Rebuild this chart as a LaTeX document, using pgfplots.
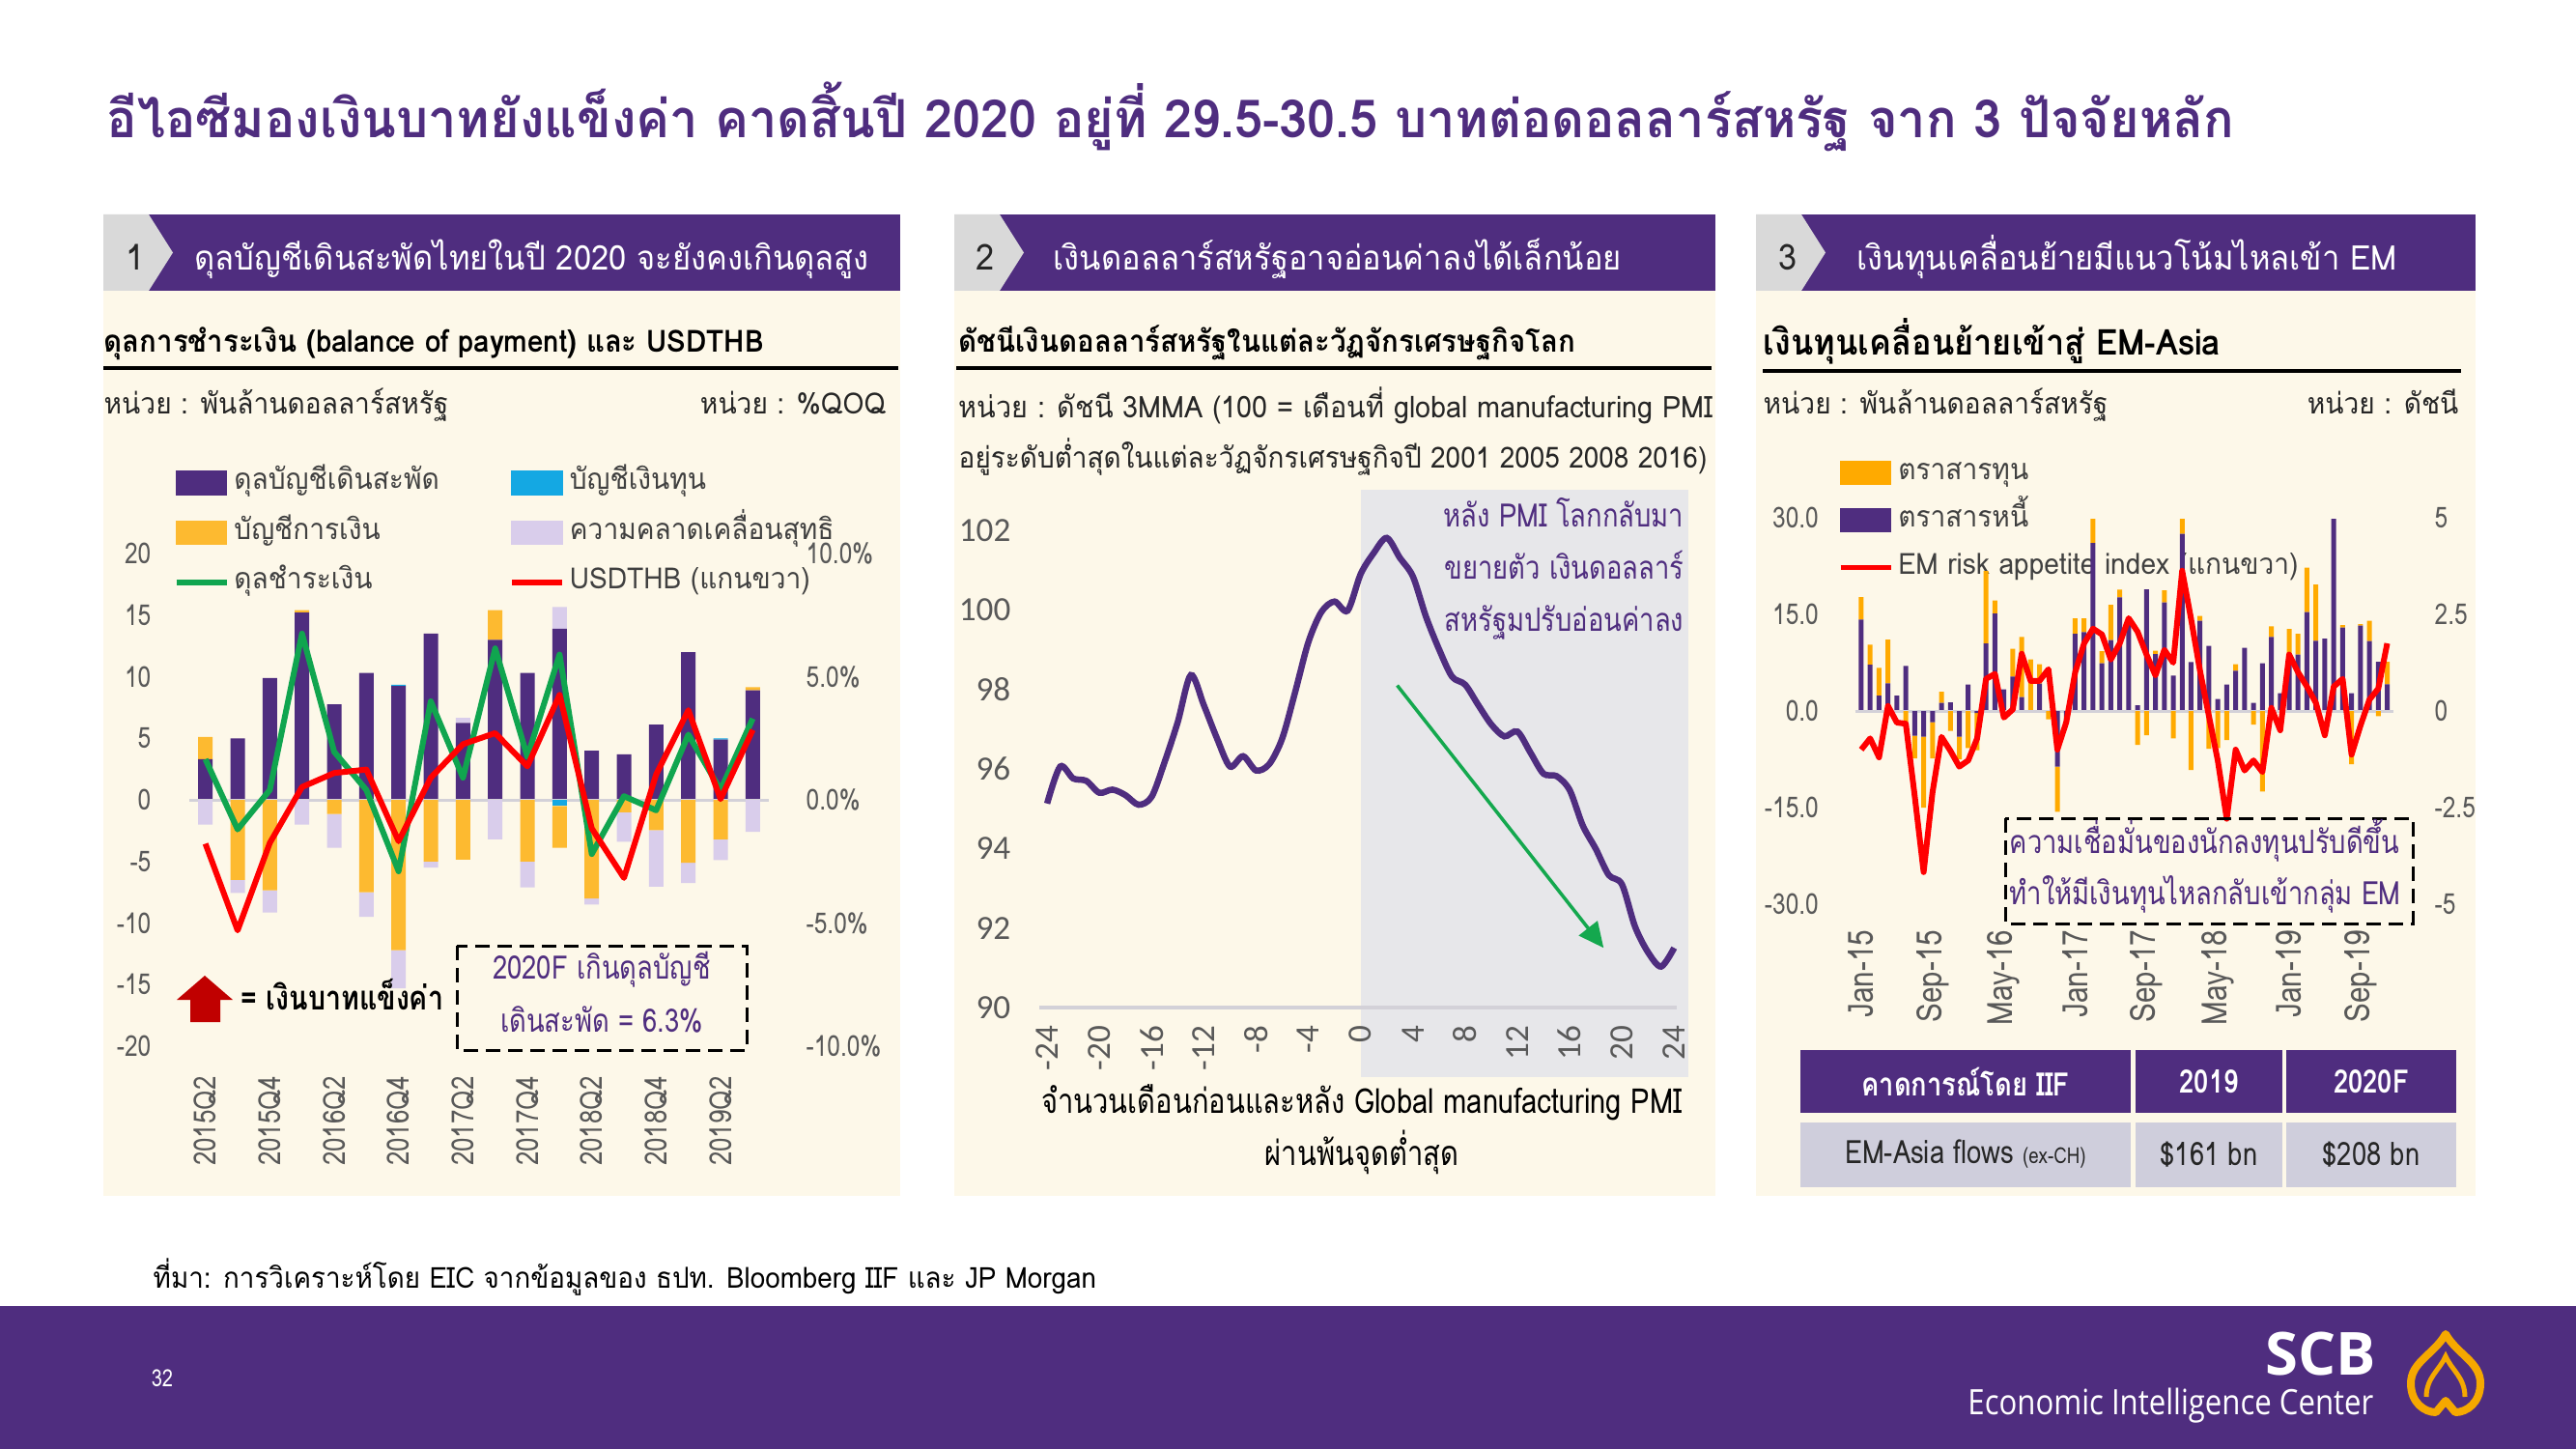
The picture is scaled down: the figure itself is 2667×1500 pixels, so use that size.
\documentclass[border=0pt]{standalone}
\usepackage{fontspec}
\usepackage{pgfplots}
\usepackage{pgfplotstable}
\pgfplotsset{compat=1.18}
\usetikzlibrary{arrows.meta}

\setmainfont[Script=Thai]{Loma}
\newfontfamily\thn[Script=Thai,FakeStretch=0.82]{Loma}
\newfontfamily\thw[Script=Thai,FakeStretch=0.93]{Loma}
\newfontfamily\tht[Script=Thai,FakeStretch=0.96]{Loma}
\newfontfamily\carl{Carlito}
\newfontfamily\osb{Open Sans}
\newfontfamily\osc[FakeStretch=0.86]{Open Sans}

\definecolor{eicpurple}{HTML}{4F2D7F}
\definecolor{cream}{HTML}{FDF8E9}
\definecolor{hdrgrey}{HTML}{D9D9D9}
\definecolor{faorange}{HTML}{FDBA30}
\definecolor{eqorange}{HTML}{FFAA00}
\definecolor{lav}{HTML}{D9CDEB}
\definecolor{kablue}{HTML}{14A8E3}
\definecolor{bopgreen}{HTML}{10A54F}
\definecolor{fxred}{HTML}{FF0000}
\definecolor{tickgrey}{HTML}{595959}
\definecolor{leggrey}{HTML}{404040}
\definecolor{pmishade}{HTML}{E7E7EA}
\definecolor{rowgrey}{HTML}{CFCEDC}
\definecolor{gold}{HTML}{F5A800}
\definecolor{zeroline}{HTML}{D3D1D8}
\definecolor{arrowgreen}{HTML}{14A84E}
\definecolor{darkred}{HTML}{C00000}

\newcommand\fsz[1]{\fontsize{#1}{#1}\selectfont}

% Thai balance of payments, quarterly 2015Q2-2019Q3 (USD bn; fx in %QoQ)
\pgfplotstableread{
q ca ka fa ne bop fx
0 3.3 0 1.8 -2.0 3.3 -1.78
1 5.0 0 -6.5 -1.05 -2.4 -5.3
2 9.9 0 -7.35 -1.8 0.8 -1.75
3 15.2 0 0.2 -2.0 13.5 0.52
4 7.75 0 -1.15 -2.75 3.9 1.09
5 10.3 0 -7.5 -2.0 0.8 1.23
6 9.25 0.1 -12.2 -3.1 -5.8 -1.68
7 13.5 0 -5.0 -0.5 8.0 0.9
8 6.25 0 -4.85 0.4 1.8 2.26
9 13.0 0 2.4 -3.2 12.3 2.71
10 10.3 0 -5.0 -2.1 3.5 1.36
11 13.9 -0.5 -3.4 1.75 11.8 4.26
12 4.0 0 -8.0 -0.5 -4.4 -1.16
13 3.7 0 -1.0 -2.4 0.3 -3.17
14 6.1 0 -2.45 -4.6 -0.85 1.03
15 12.0 0 -5.1 -1.65 5.3 3.64
16 4.9 0.1 -3.2 -1.7 0.8 0.03
17 8.9 0 0.25 -2.6 6.6 2.84
}\bopdata

% US dollar index around global manufacturing PMI troughs (3MMA)
\pgfplotstableread{
m usd
-24 95.13
-23 96.06
-22 95.76
-21 95.70
-20 95.40
-19 95.48
-18 95.34
-17 95.10
-16 95.30
-15 96.18
-14 97.18
-13 98.36
-12 97.60
-11 96.77
-10 96.06
-9 96.32
-8 95.96
-7 96.12
-6 96.77
-5 97.95
-4 99.19
-3 99.95
-2 100.21
-1 99.98
0 100.90
1 101.43
2 101.81
3 101.31
4 100.84
5 99.83
6 99.01
7 98.32
8 98.12
9 97.61
10 97.12
11 96.82
12 96.94
13 96.41
14 95.88
15 95.82
16 95.47
17 94.58
18 93.99
19 93.33
20 93.10
21 92.04
22 91.39
23 91.03
24 91.50
}\usdcycle

% EM-Asia portfolio flows, Jan-15 to Dec-19 (USD bn) and EM risk appetite index
\pgfplotstableread{
m debt eq risk
0 14.2 3.5 -1.00
1 7.2 3.1 -0.71
2 2.4 4.3 -1.20
3 4.3 6.8 0.13
4 2.4 0 -0.30
5 7.0 -1.75 -0.33
6 -3.85 -3.5 -2.20
7 -4.0 -11.0 -4.17
8 -1.75 -5.6 -2.10
9 1.25 1.75 -0.67
10 1.35 -3.1 -1.03
11 -4.0 -3.5 -1.44
12 4.1 -5.75 -1.28
13 -0.3 -5.8 -0.71
14 10.5 11.25 0.83
15 15.15 2.0 0.96
16 3.35 0 -0.17
17 5.35 4.3 0.04
18 2.15 9.35 1.48
19 0 8.0 0.78
20 4.25 3.0 0.78
21 0 -1.3 1.08
22 -8.65 -7.0 -1.00
23 -2.0 0 -0.29
24 12.0 2.4 1.00
25 12.25 2.15 1.75
26 26.1 3.75 2.13
27 7.4 1.9 1.98
28 11.0 5.5 1.33
29 17.65 1.2 1.75
30 14.2 0 2.40
31 0.9 -5.25 2.05
32 18.9 -3.75 1.46
33 8.85 0.5 0.92
34 16.85 1.9 1.58
35 5.5 -4.25 1.25
36 27.5 2.35 3.63
37 7.6 -9.15 2.38
38 14.0 0.75 1.04
39 10.1 -5.85 -0.13
40 1.85 -5.75 -1.29
41 4.1 -4.5 -2.79
42 6.25 1.0 -1.00
43 9.8 0 -1.54
44 1.25 -2.1 -1.28
45 7.4 -12.5 -1.58
46 11.5 1.65 0.08
47 2.75 0 -0.50
48 8.75 4.0 1.46
49 8.75 3.25 1.00
50 15.35 6.9 0.63
51 10.9 8.75 0.21
52 11.25 0 -0.63
53 29.85 0 0.63
54 12.95 0.4 0.83
55 2.75 -8.25 -1.13
56 13.25 0.25 -0.38
57 10.85 3.15 0.29
58 7.65 -0.8 0.58
59 4.15 3.5 1.75
}\emflows

\pgfplotsset{
  noframe/.style={axis line style={draw=none}, major tick length=0pt},
  legbox/.style={legend image code/.code={\fill[#1] (0mm,-1.2mm) rectangle (5.2mm,1.2mm);}},
  legline/.style={legend image code/.code={\draw[#1, line width=0.55mm] (0mm,0mm) -- (5.2mm,0mm);}},
  p1/.style={scale only axis, width=60mm, height=51mm, at={(A1)}, anchor=south west,
    xmin=-0.5, xmax=17.5, ymin=-20, ymax=20, clip=false},
  p1bars/.style={p1, hide axis, ybar stacked, bar width=1.5mm},
  p3/.style={scale only axis, width=55.75mm, height=40mm, at={(A3)}, anchor=south west,
    xmin=-0.7, xmax=59.7, ymin=-30, ymax=30, clip=false},
  p3bars/.style={p3, hide axis, ybar stacked, bar width=0.5mm},
  tl/.style={ticklabel style={font=\thn\fsz{8.5}, text=tickgrey, inner sep=0pt}},
}

\begin{document}
\begin{tikzpicture}
\begin{scope}[x=0.1mm,y=-0.1mm]
\path[use as bounding box, fill=white] (0,0) rectangle (2667,1500);

% slide title
\node[anchor=base west, inner sep=0, text=eicpurple, font=\tht\bfseries\fsz{15.5}] at (110,143)
  {อีไอซีมองเงินบาทยังแข็งค่า คาดสิ้นปี 2020 อยู่ที่ 29.5-30.5 บาทต่อดอลลาร์สหรัฐ จาก 3 ปัจจัยหลัก};

% panel frames and header bars
\foreach \L/\R in {107/932, 988/1776, 1818/2563} {
  \fill[cream] (\L,301) rectangle (\R,1238);
  \fill[eicpurple] (\L,222) rectangle (\R,301);
  \fill[hdrgrey] (\L,222) -- ({\L+47},222) -- ({\L+72},261.5) -- ({\L+47},301) -- (\L,301) -- cycle;
}
\fill[pmishade] (1408.5,507) rectangle (1748,1115);

\begin{scope}[every node/.style={inner sep=0pt}]
\node[anchor=base, font=\thw\fsz{10.5}, text=black!85] at (140,280) {1};
\node[anchor=base, font=\thw\fsz{10.5}, text=black!85] at (1020,280) {2};
\node[anchor=base, font=\thw\fsz{10.5}, text=black!85] at (1851,280) {3};
\node[anchor=base west, font=\thw\fsz{10}, text=white] at (201,280) {ดุลบัญชีเดินสะพัดไทยในปี 2020 จะยังคงเกินดุลสูง};
\node[anchor=base west, font=\thw\fsz{10}, text=white] at (1090,280) {เงินดอลลาร์สหรัฐอาจอ่อนค่าลงได้เล็กน้อย};
\node[anchor=base west, font=\thw\fsz{10}, text=white] at (1922,280) {เงินทุนเคลื่อนย้ายมีแนวโน้มไหลเข้า EM};

\node[anchor=base west, font=\thw\bfseries\fsz{9}] at (107,364) {ดุลการชำระเงิน (balance of payment) และ USDTHB};
\node[anchor=base west, font=\thw\bfseries\fsz{9}] at (992,364) {ดัชนีเงินดอลลาร์สหรัฐในแต่ละวัฏจักรเศรษฐกิจโลก};
\node[anchor=base west, font=\thw\bfseries\fsz{10.5}] at (1825,368) {เงินทุนเคลื่อนย้ายเข้าสู่ EM-Asia};
\draw[line width=0.4mm] (107,381) -- (930,381);
\draw[line width=0.4mm] (990,381) -- (1772,381);
\draw[line width=0.4mm] (1825,384) -- (2548,384);

\node[anchor=base west, font=\thw\fsz{8.6}, text=black!85] at (107,428) {หน่วย : พันล้านดอลลาร์สหรัฐ};
\node[anchor=base east, font=\thw\fsz{8.6}, text=black!85] at (918,428) {หน่วย : \%QOQ};
\node[anchor=base west, font=\thw\fsz{8.8}, text=black!85] at (992,432) {หน่วย : ดัชนี 3MMA (100 = เดือนที่ global manufacturing PMI};
\node[anchor=base west, font=\thw\fsz{8.55}, text=black!85] at (992,484) {อยู่ระดับต่ำสุดในแต่ละวัฏจักรเศรษฐกิจปี 2001 2005 2008 2016)};
\node[anchor=base west, font=\thw\fsz{8.6}, text=black!85] at (1825,428) {หน่วย : พันล้านดอลลาร์สหรัฐ};
\node[anchor=base east, font=\thw\fsz{8.6}, text=black!85] at (2546,428) {หน่วย : ดัชนี};
\end{scope}

\coordinate (A1) at (196,1083);
\coordinate (A2) at (1076,1043);
\coordinate (A3) at (1920.5,936);
\end{scope}

% ---------- panel 1: balance of payments ----------
\begin{axis}[p1bars]
  \addplot[fill=eicpurple, draw=none] table[x=q, y expr={max(\thisrow{ca},0)}]{\bopdata};
  \addplot[fill=kablue, draw=none] table[x=q, y expr={max(\thisrow{ka},0)}]{\bopdata};
  \addplot[fill=faorange, draw=none] table[x=q, y expr={max(\thisrow{fa},0)}]{\bopdata};
  \addplot[fill=lav, draw=none] table[x=q, y expr={max(\thisrow{ne},0)}]{\bopdata};
\end{axis}
\begin{axis}[p1bars]
  \addplot[fill=eicpurple, draw=none] table[x=q, y expr={min(\thisrow{ca},0)}]{\bopdata};
  \addplot[fill=kablue, draw=none] table[x=q, y expr={min(\thisrow{ka},0)}]{\bopdata};
  \addplot[fill=faorange, draw=none] table[x=q, y expr={min(\thisrow{fa},0)}]{\bopdata};
  \addplot[fill=lav, draw=none] table[x=q, y expr={min(\thisrow{ne},0)}]{\bopdata};
  \draw[zeroline, line width=0.3mm] (axis cs:-0.5,0) -- (axis cs:17.5,0);
\end{axis}
\begin{axis}[p1, noframe, tl,
  xtick={0,2,...,16},
  xticklabels={2015Q2,2015Q4,2016Q2,2016Q4,2017Q2,2017Q4,2018Q2,2018Q4,2019Q2},
  ytick={-20,-15,...,20}, yticklabels={-20,-15,-10,-5,0,5,10,15,20},
  xticklabel style={rotate=90, anchor=east, font=\thn\fsz{9}}, yticklabel style={anchor=east},
  xticklabel shift=3mm, yticklabel shift=3.9mm,
  legend columns=2,
  legend style={draw=none, fill=none, at={(-0.028,1.19)}, anchor=north west,
    font=\thw\fsz{8.6}, text=leggrey, row sep=0.55mm, inner sep=0pt,
    nodes={inner sep=0.5mm, text height=2.5mm, text depth=1.1mm}},
  legend cell align=left]
  \addlegendimage{legbox=eicpurple}\addlegendentry{\makebox[28mm][l]{ดุลบัญชีเดินสะพัด}}
  \addlegendimage{legbox=kablue}\addlegendentry{บัญชีเงินทุน}
  \addlegendimage{legbox=faorange}\addlegendentry{\makebox[28mm][l]{บัญชีการเงิน}}
  \addlegendimage{legbox=lav}\addlegendentry{ความคลาดเคลื่อนสุทธิ}
  \addlegendimage{legline=bopgreen}\addlegendentry{\makebox[28mm][l]{ดุลชำระเงิน}}
  \addlegendimage{legline=fxred}\addlegendentry{USDTHB (แกนขวา)}
  \addplot[bopgreen, line width=0.6mm, line join=round, mark=none, forget plot] table[x=q, y=bop]{\bopdata};
\end{axis}
\begin{axis}[p1, noframe, tl, ymin=-10, ymax=10, xtick=\empty,
  ytick={-10,-5,0,5,10}, yticklabels={-10.0\%,-5.0\%,0.0\%,5.0\%,10.0\%},
  yticklabel pos=right, yticklabel style={anchor=west}, yticklabel shift=3.8mm]
  \addplot[fxred, line width=0.6mm, line join=round, mark=none] table[x=q, y=fx]{\bopdata};
\end{axis}

% ---------- panel 2: dollar index through the cycle ----------
\begin{axis}[scale only axis, width=66mm, height=49.4mm, at={(A2)}, anchor=south west,
  xmin=-24.6, xmax=24.2, ymin=90, ymax=102, clip=false, noframe,
  xtick={-24,-20,...,24}, xticklabels={-24,-20,-16,-12,-8,-4,0,4,8,12,16,20,24},
  ytick={90,92,...,102}, yticklabels={90,92,94,96,98,100,102},
  ticklabel style={font=\carl\fsz{10}, text=tickgrey, inner sep=0pt},
  xticklabel style={rotate=90, anchor=east}, yticklabel style={anchor=east},
  xticklabel shift=1.8mm, yticklabel shift=2.9mm]
  \draw[zeroline, line width=0.35mm] (axis cs:-24.6,90) -- (axis cs:24.2,90);
  \addplot[eicpurple, line width=0.65mm, smooth, tension=0.5, mark=none] table[x=m, y=usd]{\usdcycle};
  \draw[-{Triangle[length=2.6mm,width=2.4mm]}, arrowgreen, line width=0.35mm]
    (axis cs:2.8,98.1) -- (axis cs:18.6,91.5);
\end{axis}

% ---------- panel 3: EM-Asia flows ----------
\begin{axis}[p3, noframe, tl,
  xtick={0,8,...,56}, xticklabels={Jan-15,Sep-15,May-16,Jan-17,Sep-17,May-18,Jan-19,Sep-19},
  ytick={-30,-15,0,15,30}, yticklabels={-30.0,-15.0,0.0,15.0,30.0},
  xticklabel style={rotate=90, anchor=east, font=\thn\fsz{10.3}}, yticklabel style={anchor=east},
  xticklabel shift=2.6mm, yticklabel shift=3.7mm,
  legend style={draw=none, fill=none, at={(-0.033,1.176)}, anchor=north west,
    font=\thw\fsz{8.6}, text=leggrey, row sep=0.3mm, inner sep=0pt,
    nodes={inner sep=0.5mm, text height=2.5mm, text depth=1.1mm}},
  legend cell align=left]
  \addlegendimage{legbox=eqorange}\addlegendentry{ตราสารทุน}
  \addlegendimage{legbox=eicpurple}\addlegendentry{ตราสารหนี้}
  \addlegendimage{legline=fxred}\addlegendentry{EM risk appetite index (แกนขวา)}
\end{axis}
\begin{axis}[p3bars]
  \addplot[fill=eicpurple, draw=none] table[x=m, y expr={max(\thisrow{debt},0)}]{\emflows};
  \addplot[fill=eqorange, draw=none] table[x=m, y expr={max(\thisrow{eq},0)}]{\emflows};
\end{axis}
\begin{axis}[p3bars]
  \addplot[fill=eicpurple, draw=none] table[x=m, y expr={min(\thisrow{debt},0)}]{\emflows};
  \addplot[fill=eqorange, draw=none] table[x=m, y expr={min(\thisrow{eq},0)}]{\emflows};
  \draw[zeroline, line width=0.3mm] (axis cs:-0.7,0) -- (axis cs:59.7,0);
\end{axis}
\begin{axis}[p3, noframe, tl, ymin=-5, ymax=5, xtick=\empty,
  ytick={-5,-2.5,0,2.5,5}, yticklabels={-5,-2.5,0,2.5,5},
  yticklabel pos=right, yticklabel style={anchor=west}, yticklabel shift=4.2mm]
  \addplot[fxred, line width=0.6mm, line join=round, mark=none] table[x=m, y=risk]{\emflows};
\end{axis}

% ---------- annotations, table and footer ----------
\begin{scope}[x=0.1mm,y=-0.1mm, every node/.style={inner sep=0pt}]
% panel 1
\fill[darkred] (212,1010) -- (241,1035) -- (228,1035) -- (228,1058) -- (197,1058) -- (197,1035) -- (183,1035) -- cycle;
\node[anchor=base west, font=\thn\bfseries\fsz{9.9}] at (249,1045) {= เงินบาทแข็งค่า};
\draw[line width=0.3mm, dash pattern=on 1.5mm off 0.8mm] (473,979) rectangle (773,1087);
\node[anchor=base, font=\thn\fsz{9.5}, text=eicpurple] at (623,1013) {2020F เกินดุลบัญชี};
\node[anchor=base, font=\thn\fsz{9.5}, text=eicpurple] at (623,1068) {เดินสะพัด = 6.3\%};
% panel 2
\node[anchor=base east, font=\thn\fsz{9.5}, text=eicpurple] at (1744,545) {หลัง PMI โลกกลับมา};
\node[anchor=base east, font=\thn\fsz{9.5}, text=eicpurple] at (1744,599) {ขยายตัว เงินดอลลาร์};
\node[anchor=base east, font=\thn\fsz{9.5}, text=eicpurple] at (1744,653) {สหรัฐมปรับอ่อนค่าลง};
\node[anchor=base, font=\thn\fsz{10.1}] at (1410,1152) {จำนวนเดือนก่อนและหลัง Global manufacturing PMI};
\node[anchor=base, font=\thn\fsz{10.1}] at (1410,1206) {ผ่านพ้นจุดต่ำสุด};
% panel 3
\draw[line width=0.3mm, dash pattern=on 1.5mm off 0.8mm] (2076,847) rectangle (2498,956);
\node[anchor=base west, font=\thn\fsz{9.5}, text=eicpurple] at (2080,883) {ความเชื่อมั่นของนักลงทุนปรับดีขึ้น};
\node[anchor=base west, font=\thn\fsz{9.5}, text=eicpurple] at (2080,936) {ทำให้มีเงินทุนไหลกลับเข้ากลุ่ม EM};
\fill[eicpurple] (1864,1087) rectangle (2206,1152);
\fill[eicpurple] (2211,1087) rectangle (2363,1152);
\fill[eicpurple] (2367,1087) rectangle (2543,1152);
\fill[rowgrey] (1864,1162) rectangle (2206,1229);
\fill[rowgrey] (2211,1162) rectangle (2363,1229);
\fill[rowgrey] (2367,1162) rectangle (2543,1229);
\node[font=\thn\bfseries\fsz{9.5}, text=white] at (2035,1120) {คาดการณ์โดย IIF};
\node[font=\thn\bfseries\fsz{9.5}, text=white] at (2287,1120) {2019};
\node[font=\thn\bfseries\fsz{9.5}, text=white] at (2455,1120) {2020F};
\node[font=\thn\fsz{9.5}, text=black!85] at (2035,1195) {EM-Asia flows {\fsz{6.5}(ex-CH)}};
\node[font=\thn\fsz{9.5}, text=black!85] at (2287,1195) {\$161 bn};
\node[font=\thn\fsz{9.5}, text=black!85] at (2455,1195) {\$208 bn};
% footer
\node[anchor=base west, font=\thw\fsz{8.5}] at (158,1333) {ที่มา: การวิเคราะห์โดย EIC จากข้อมูลของ ธปท. Bloomberg IIF และ JP Morgan};
\fill[eicpurple] (0,1352) rectangle (2667,1500);
\node[font=\thn\fsz{7}, text=white] at (168,1427) {32};
\node[anchor=base east, font=\osb\bfseries\fsz{17.5}, text=white] at (2461,1423) {SCB};
\node[anchor=base east, font=\osc\fsz{10.3}, text=white] at (2458,1464) {Economic Intelligence Center};
\draw[gold, line width=0.8mm, line join=round]
  (2532,1381) .. controls (2520,1402) and (2496,1410) .. (2496,1432)
  .. controls (2496,1452) and (2510,1462) .. (2522,1462) -- (2532,1450) -- (2542,1462)
  .. controls (2554,1462) and (2568,1452) .. (2568,1432)
  .. controls (2568,1410) and (2544,1402) .. (2532,1381) -- cycle;
\draw[gold, line width=0.5mm] (2512,1446) .. controls (2512,1426) and (2526,1418) .. (2532,1404)
  .. controls (2538,1418) and (2552,1426) .. (2552,1446);
\end{scope}
\end{tikzpicture}
\end{document}
